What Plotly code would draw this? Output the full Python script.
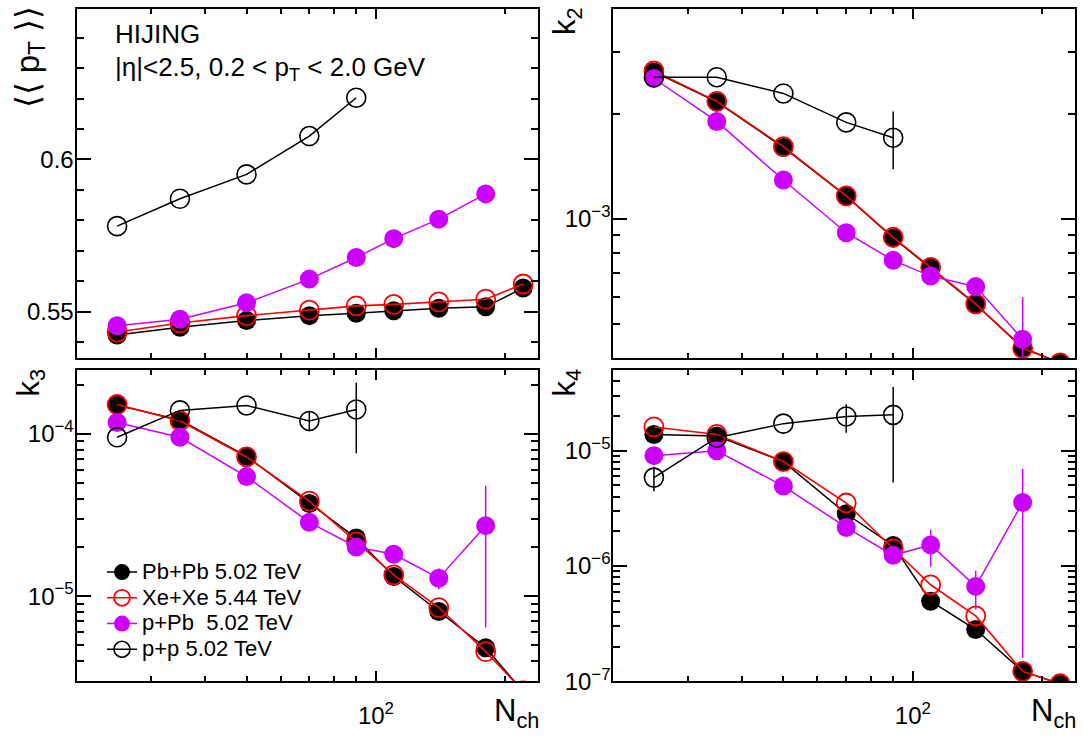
import plotly.graph_objects as go

# ---------------- data ----------------
nch = [25, 35, 50, 70, 90, 110, 140, 180, 220]
nch_ppb = [25, 35, 50, 70, 90, 110, 140, 180]
nch_pp = [25, 35, 50, 70, 90]

meanpt_pbpb = [0.5423, 0.5449, 0.5471, 0.5487, 0.5495, 0.5503, 0.5511, 0.5516, 0.5578]
meanpt_xexe = [0.5433, 0.5463, 0.5487, 0.5505, 0.5519, 0.5524, 0.5532, 0.5541, 0.5591]
meanpt_ppb = [0.5454, 0.5475, 0.5529, 0.5607, 0.5678, 0.5740, 0.5804, 0.5887]
meanpt_pp = [0.5781, 0.5871, 0.5951, 0.6077, 0.6203]

k2_pbpb = [2.634e-3, 2.162e-3, 1.602e-3, 1.162e-3, 0.883e-3, 0.725e-3, 0.570e-3, 0.429e-3, 0.388e-3]
k2_xexe = [2.650e-3, 2.170e-3, 1.610e-3, 1.165e-3, 0.887e-3, 0.728e-3, 0.572e-3, 0.427e-3, 0.388e-3]
k2_ppb = [2.522e-3, 1.901e-3, 1.293e-3, 0.914e-3, 0.762e-3, 0.687e-3, 0.641e-3, 0.453e-3]
k2_ppb_err = [0, 0, 0, 0, 0, 0, 0, 0.145e-3]
k2_pp = [2.544e-3, 2.544e-3, 2.286e-3, 1.889e-3, 1.708e-3]
k2_pp_err = [0, 0, 0, 0, 0.32e-3]

k3_pbpb = [1.505e-4, 1.222e-4, 7.29e-5, 3.73e-5, 2.28e-5, 1.32e-5, 8.04e-6, 4.80e-6, 2.58e-6]
k3_xexe = [1.520e-4, 1.205e-4, 7.22e-5, 3.85e-5, 2.16e-5, 1.35e-5, 8.50e-6, 4.54e-6, 2.60e-6]
k3_ppb = [1.177e-4, 9.54e-5, 5.46e-5, 2.85e-5, 2.01e-5, 1.81e-5, 1.29e-5, 2.72e-5]
k3_ppb_err = [0, 0, 0, 0, 0, 0, 1.9e-6, 2.08e-5]
k3_pp = [9.54e-5, 1.398e-4, 1.50e-4, 1.204e-4, 1.417e-4]
k3_pp_err = [0, 0, 0, 1.65e-5, 6.55e-5]

k4_pbpb = [1.386e-5, 1.342e-5, 8.06e-6, 2.84e-6, 1.505e-6, 4.95e-7, 2.81e-7, 1.216e-7, 9.5e-8]
k4_xexe = [1.610e-5, 1.386e-5, 8.06e-6, 3.52e-6, 1.41e-6, 6.87e-7, 3.69e-7, 1.216e-7, 9.5e-8]
k4_ppb = [9.07e-6, 1.0e-5, 4.94e-6, 2.16e-6, 1.237e-6, 1.525e-6, 6.65e-7, 3.56e-6]
k4_ppb_err = [0, 0, 0, 0, 0, 5.4e-7, 2.45e-7, 3.4e-6]
k4_pp = [5.85e-6, 1.299e-5, 1.72e-5, 1.986e-5, 2.05e-5]
k4_pp_err = [1.4e-6, 0, 0, 5.5e-6, 1.52e-5]

series_names = ["Pb+Pb 5.02 TeV", "Xe+Xe 5.44 TeV", "p+Pb\u00a0 5.02 TeV", "p+p 5.02 TeV"]

# ---------------- style ----------------
FONT = "Liberation Sans, Arial, Helvetica, sans-serif"
BLACK = "#000000"
RED = "#FF0000"
MAG = "#CC00FF"
MS = 19
W, H = 1083, 745

fig = go.Figure()

panels = [
    ("x", "y", meanpt_pbpb, meanpt_xexe, meanpt_ppb, None, meanpt_pp, None),
    ("x2", "y2", k2_pbpb, k2_xexe, k2_ppb, k2_ppb_err, k2_pp, k2_pp_err),
    ("x3", "y3", k3_pbpb, k3_xexe, k3_ppb, k3_ppb_err, k3_pp, k3_pp_err),
    ("x4", "y4", k4_pbpb, k4_xexe, k4_ppb, k4_ppb_err, k4_pp, k4_pp_err),
]

def leg(s):
    return '<span style="font-size:22px">' + s + '</span>'

for i, (xa, ya, pbpb, xexe, ppb, ppb_err, pp, pp_err) in enumerate(panels):
    show = (i == 2)
    fig.add_trace(go.Scatter(
        x=nch, y=pbpb, xaxis=xa, yaxis=ya, mode="lines+markers",
        name=leg(series_names[0]), showlegend=show, legendrank=1,
        line=dict(color=BLACK, width=1.5),
        marker=dict(symbol="circle", size=MS, color=BLACK, line=dict(width=0))))
    fig.add_trace(go.Scatter(
        x=nch, y=xexe, xaxis=xa, yaxis=ya, mode="lines+markers",
        name=leg(series_names[1]), showlegend=show, legendrank=2,
        line=dict(color=RED, width=1.6),
        marker=dict(symbol="circle-open", size=MS, color=RED, line=dict(width=1.8, color=RED))))
    err = dict(type="data", array=ppb_err, visible=True, color=MAG, thickness=1.5, width=0) if ppb_err else None
    fig.add_trace(go.Scatter(
        x=nch_ppb, y=ppb, xaxis=xa, yaxis=ya, mode="lines+markers",
        name=leg(series_names[2]), showlegend=show, legendrank=3,
        line=dict(color=MAG, width=1.5), error_y=err,
        marker=dict(symbol="circle", size=MS, color=MAG, line=dict(width=0))))
    err = dict(type="data", array=pp_err, visible=True, color=BLACK, thickness=1.5, width=0) if pp_err else None
    fig.add_trace(go.Scatter(
        x=nch_pp, y=pp, xaxis=xa, yaxis=ya, mode="lines+markers",
        name=leg(series_names[3]), showlegend=show, legendrank=4,
        line=dict(color=BLACK, width=1.5), error_y=err,
        marker=dict(symbol="circle-open", size=MS, color=BLACK, line=dict(width=1.6, color=BLACK))))

# ---------------- axes ----------------
xl = [76.5 / W, 538 / W]
xr = [613.3 / W, 1075 / W]
yt = [1 - 364.3 / H, 1 - 9.3 / H]
yb = [1 - 693.3 / H, 1 - 376.7 / H]

xrange_log = [1.3035, 2.377]
tickfont = dict(family=FONT, size=24, color=BLACK)

def xaxis(domain, anchor, labels):
    return dict(
        type="log", domain=domain, anchor=anchor, range=xrange_log,
        showline=True, linecolor=BLACK, linewidth=2, mirror="allticks",
        ticks="inside", ticklen=10, tickwidth=1.5, tickcolor=BLACK,
        tickvals=[100], ticktext=["10<sup>2</sup>"], showticklabels=labels,
        tickfont=tickfont, showgrid=False, zeroline=False, ticklabelstandoff=12,
        minor=dict(tickvals=[20, 30, 40, 50, 60, 70, 80, 90, 200], ticks="inside",
                   ticklen=5, tickwidth=1.5, tickcolor=BLACK, showgrid=False),
    )

def yaxis(domain, anchor, typ, rng, tv, tt, minor_vals):
    return dict(
        type=typ, domain=domain, anchor=anchor, range=rng,
        showline=True, linecolor=BLACK, linewidth=2, mirror="allticks",
        ticks="inside", ticklen=14, tickwidth=1.5, tickcolor=BLACK,
        tickvals=tv, ticktext=tt, tickfont=tickfont, showgrid=False, zeroline=False,
        ticklabelstandoff=-4,
        minor=dict(tickvals=minor_vals, ticks="inside", ticklen=7, tickwidth=1.5,
                   tickcolor=BLACK, showgrid=False),
    )

m2 = [4e-4, 5e-4, 6e-4, 7e-4, 8e-4, 9e-4, 2e-3, 3e-3, 4e-3]
m3 = [3e-6, 4e-6, 5e-6, 6e-6, 7e-6, 8e-6, 9e-6, 2e-5, 3e-5, 4e-5, 5e-5, 6e-5, 7e-5, 8e-5, 9e-5, 2e-4]
m4 = [2e-7, 3e-7, 4e-7, 5e-7, 6e-7, 7e-7, 8e-7, 9e-7, 2e-6, 3e-6, 4e-6, 5e-6, 6e-6, 7e-6, 8e-6, 9e-6,
      2e-5, 3e-5, 4e-5, 5e-5]
m1 = [0.54, 0.56, 0.57, 0.58, 0.59, 0.61, 0.62, 0.63, 0.64]

fig.update_layout(
    xaxis=xaxis(xl, "y", False),
    xaxis2=xaxis(xr, "y2", False),
    xaxis3=xaxis(xl, "y3", True),
    xaxis4=xaxis(xr, "y4", True),
    yaxis=yaxis(yt, "x", "linear", [0.5348, 0.6494], [0.55, 0.6], ["0.55", "0.6"], m1),
    yaxis2=yaxis(yt, "x2", "log", [-3.397, -2.400], [1e-3], ["10<sup>\u22123</sup>"], m2),
    yaxis3=yaxis(yb, "x3", "log", [-5.525, -3.606], [1e-5, 1e-4],
                 ["10<sup>\u22125</sup>", "10<sup>\u22124</sup>"], m3),
    yaxis4=yaxis(yb, "x4", "log", [-7.0, -4.30], [1e-7, 1e-6, 1e-5],
                 ["10<sup>\u22127</sup>", "10<sup>\u22126</sup>", "10<sup>\u22125</sup>"], m4),
)

# ---------------- text ----------------
TFONT = dict(family=FONT, size=31, color=BLACK)
ann = []
ann.append(dict(text="HIJING", x=113 / W, y=1 - 35 / H, xref="paper", yref="paper",
                xanchor="left", yanchor="middle", showarrow=False,
                font=dict(family=FONT, size=26, color=BLACK)))
ann.append(dict(text="|\u03b7|&lt;2.5, 0.2 &lt; p<sub>T</sub> &lt; 2.0 GeV", x=113 / W, y=1 - 70 / H,
                xref="paper", yref="paper", xanchor="left", yanchor="middle", showarrow=False,
                font=dict(family=FONT, size=26, color=BLACK)))
ann.append(dict(text="\u27e8\u27e8 p<sub>T</sub> \u27e9\u27e9", x=30 / W, y=1 - 4 / H, xref="paper",
                yref="paper", xanchor="center", yanchor="top", textangle=-90, showarrow=False,
                font=dict(family=FONT, size=33, color=BLACK)))
ann.append(dict(text="k<sub>2</sub>", x=567 / W, y=1 - 5 / H, xref="paper", yref="paper",
                xanchor="center", yanchor="top", textangle=-90, showarrow=False, font=TFONT))
ann.append(dict(text="k<sub>3</sub>", x=31 / W, y=1 - 373 / H, xref="paper", yref="paper",
                xanchor="center", yanchor="top", textangle=-90, showarrow=False, font=TFONT))
ann.append(dict(text="k<sub>4</sub>", x=567 / W, y=1 - 373 / H, xref="paper", yref="paper",
                xanchor="center", yanchor="top", textangle=-90, showarrow=False, font=TFONT))
ann.append(dict(text="N<sub>ch</sub>", x=541 / W, y=1 - 726 / H, xref="paper", yref="paper",
                xanchor="right", yanchor="middle", showarrow=False, font=TFONT))
ann.append(dict(text="N<sub>ch</sub>", x=1078 / W, y=1 - 726 / H, xref="paper", yref="paper",
                xanchor="right", yanchor="middle", showarrow=False, font=TFONT))

fig.update_layout(
    annotations=ann,
    width=W, height=H, autosize=False,
    margin=dict(l=0, r=0, t=0, b=0),
    paper_bgcolor="white", plot_bgcolor="white",
    font=dict(family=FONT, color=BLACK),
    legend=dict(x=102 / W, y=1 - 564 / H, xanchor="left", yanchor="top",
                bgcolor="rgba(0,0,0,0)", borderwidth=0,
                font=dict(family=FONT, size=17.5, color=BLACK),
                tracegroupgap=0, itemwidth=30),
)

fig.write_html("out.html", config={"displayModeBar": False},
               post_script="document.body.style.margin='0px';document.body.style.padding='0px';"
                           "document.documentElement.style.overflow='hidden';")
